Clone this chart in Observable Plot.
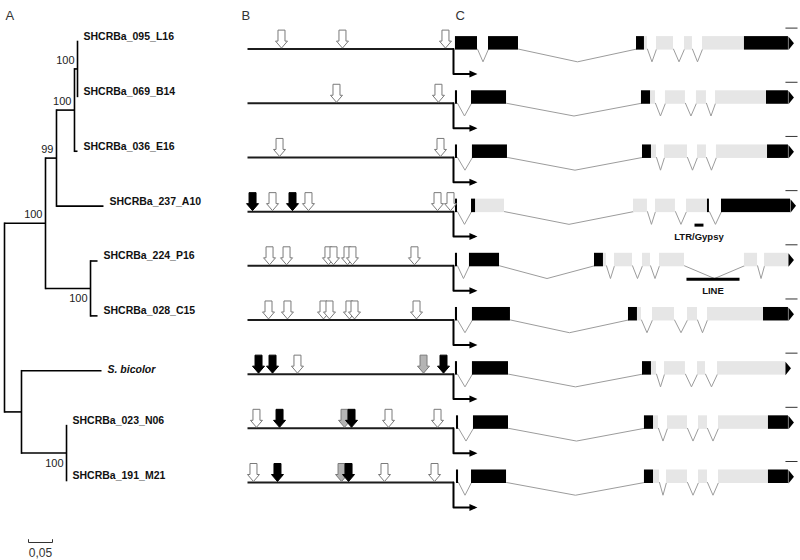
<!DOCTYPE html>
<html><head><meta charset="utf-8">
<script src="https://cdn.jsdelivr.net/npm/d3@7"></script>
<script src="https://cdn.jsdelivr.net/npm/@observablehq/plot@0.6"></script>
<style>
body{margin:0;background:#fff;}
#fig{position:relative;width:800px;height:560px;overflow:hidden;}
#fig svg{position:absolute;top:0;}
</style></head><body><div id="fig"></div>
<script>
// ---------- data ----------
const genes = ["SHCRBa_095_L16","SHCRBa_069_B14","SHCRBa_036_E16","SHCRBa_237_A10",
  "SHCRBa_224_P16","SHCRBa_028_C15","S. bicolor","SHCRBa_023_N06","SHCRBa_191_M21"];

// tree: [child, parent, branch length (substitutions/site)]
const treeEdges = [
  ["U","root",0.0854], ["L","root",0.0354],
  ["U1","U",0.0229], ["U2","U",0.0938],
  ["U1a","U1",0.0375], ["SHCRBa_237_A10","U1",0.0979],
  ["U1a1","U1a",0.0063], ["SHCRBa_036_E16","U1a",0.0063],
  ["SHCRBa_095_L16","U1a1",0], ["SHCRBa_069_B14","U1a1",0],
  ["SHCRBa_224_P16","U2",0.0146], ["SHCRBa_028_C15","U2",0.0146],
  ["S. bicolor","L",0.1667], ["L2","L",0.0938],
  ["SHCRBa_023_N06","L2",0], ["SHCRBa_191_M21","L2",0]
];
// bootstrap support: [node, value, side]
const supports = [["U1a1",100,"above"],["U1a",100,"above"],["U1",99,"above"],["U",100,"above"],
  ["U2",100,"below"],["L2",100,"below"]];
const scaleBar = [0.05, 0.10];
const scaleBarLabel = "0,05";

// promoter motifs: [row, position in bp relative to TSS]
const openMotifs = [[0,-1670],[0,-1078],[0,-78],[1,-1136],[1,-146],[2,-1689],[2,-126],
  [3,-1757],[3,-1408],[3,-155],[3,-29],
  [4,-1786],[4,-1621],[4,-1214],[4,-1165],[4,-1029],[4,-981],[4,-379],
  [5,-1796],[5,-1612],[5,-1262],[5,-1204],[5,-1010],[5,-961],[5,-359],
  [6,-1515],[7,-1913],[7,-631],[7,-155],[8,-1942],[8,-670],[8,-184]];
const greyMotifs = [[6,-291],[7,-1058],[8,-1087]];
const blackMotifs = [[3,-1951],[3,-1563],[6,-1893],[6,-1757],[6,-97],[7,-1689],[7,-990],[8,-1709],[8,-1019]];
const promoterStart = -2000;

// gene models: [start, end, kind] in bp from TSS (introns drawn compressed)
const exonBlocks = [
  [[19,233,"black"],[340,631,"black"],[1777,1854,"black"],[1854,1883,"grey"],[1971,2136,"grey"],[2243,2320,"grey"],[2418,2825,"grey"],[2825,3252,"black"]],
  [[19,39,"black"],[175,515,"black"],[1825,1913,"black"],[1913,1961,"grey"],[2058,2252,"grey"],[2359,2456,"grey"],[2544,3039,"grey"],[3039,3252,"black"]],
  [[19,39,"black"],[184,524,"black"],[1835,1922,"black"],[1922,1971,"grey"],[2049,2272,"grey"],[2369,2456,"grey"],[2553,3049,"grey"],[3049,3252,"black"]],
  [[19,39,"black"],[175,214,"black"],[214,495,"grey"],[1748,1883,"grey"],[1961,2155,"grey"],[2262,2466,"grey"],[2466,2485,"black"],[2602,3272,"black"]],
  [[19,39,"black"],[155,447,"black"],[1369,1456,"black"],[1456,1485,"grey"],[1563,1738,"grey"],[1835,1913,"grey"],[2000,2243,"grey"],[2825,2952,"grey"],[3020,3252,"grey"]],
  [[19,39,"black"],[184,553,"black"],[1699,1786,"black"],[1786,1825,"grey"],[1932,2146,"grey"],[2272,2369,"grey"],[2466,3010,"grey"],[3010,3252,"black"]],
  [[19,39,"black"],[184,534,"black"],[1835,1922,"black"],[1922,1971,"grey"],[2049,2252,"grey"],[2369,2447,"grey"],[2563,3223,"grey"]],
  [[29,49,"black"],[194,534,"black"],[1854,1942,"black"],[1942,1990,"grey"],[2078,2272,"grey"],[2379,2466,"grey"],[2573,3058,"grey"],[3058,3252,"black"]],
  [[29,49,"black"],[175,515,"black"],[1854,1942,"black"],[1942,2000,"grey"],[2068,2272,"grey"],[2379,2466,"grey"],[2573,3058,"grey"],[3058,3252,"black"]]
];
// transposable element insertions
const repeats = [{row:3,start:2340,end:2427,label:"LTR/Gypsy"},{row:4,start:2262,end:2777,label:"LINE"}];
const rowMarks = [3223, 3340];
const panels = [{x:-2058,label:"B"},{x:19,label:"C"}];

// ---------- layout helpers ----------
const SANS = '"Liberation Sans",Arial,sans-serif';
const INTRON_DEPTH = 0.235, TSS_DROP = 0.46, SB_Y = 9.13;

const parentOf = new Map(treeEdges.map(([c,p,bl]) => [c,{p,bl}]));
const kids = d3.group(treeEdges, d => d[1]);
const depth = new Map([["root",0]]);
function getDepth(id){ if(depth.has(id)) return depth.get(id); const {p,bl}=parentOf.get(id); const d=getDepth(p)+bl; depth.set(id,d); return d; }
const ypos = new Map(genes.map((g,i)=>[g,i]));
function getY(id){ if(ypos.has(id)) return ypos.get(id); const ys=kids.get(id).map(e=>getY(e[0])); const y=(d3.min(ys)+d3.max(ys))/2; ypos.set(id,y); return y; }
const hEdges = treeEdges.map(([c,p]) => ({x1:getDepth(p), x2:getDepth(c), y:getY(c)})).filter(d=>d.x2>d.x1);
const vEdges = [...kids.keys()].map(id => { const ys=kids.get(id).map(e=>getY(e[0])); return {x:getDepth(id), y1:d3.min(ys), y2:d3.max(ys)}; });

const downArrow = {draw(c){ c.moveTo(-3.5,-19); c.lineTo(3.5,-19); c.lineTo(3.5,-8); c.lineTo(6,-8); c.lineTo(0,-1); c.lineTo(-6,-8); c.lineTo(-3.5,-8); c.closePath(); }};
const headRight = {draw(c){ c.moveTo(-7,-3.5); c.lineTo(1,0); c.lineTo(-7,3.5); c.closePath(); }};
const geneTip = {draw(c){ c.moveTo(0,-12.5); c.lineTo(5.5,-5.8); c.lineTo(0,1); c.closePath(); }};

// ---------- panel A ----------
const tree = Plot.plot({
  width: 240, height: 560, margin: 0,
  style: {background:"transparent", overflow:"visible"},
  x: {domain:[0,0.5], range:[4,244], axis:null},
  y: {domain:[0,8], range:[41,480], axis:null},
  marks: [
    Plot.link(vEdges, {x1:"x", x2:"x", y1:"y1", y2:"y2", stroke:"#000", strokeWidth:1.6, strokeLinecap:"square"}),
    Plot.link(hEdges, {x1:"x1", x2:"x2", y1:"y", y2:"y", stroke:"#000", strokeWidth:1.6}),
    Plot.text(genes.filter(g => g !== "S. bicolor"), {x:d=>getDepth(d), y:d=>getY(d), text:d=>d, textAnchor:"start", dx:6, dy:-5, fontWeight:"bold", fontSize:10.5, fontFamily:SANS, fill:"#111"}),
    Plot.text(["S. bicolor"], {x:d=>getDepth(d), y:d=>getY(d), text:d=>d, textAnchor:"start", dx:6, dy:-1, fontWeight:"bold", fontStyle:"italic", fontSize:10.5, fontFamily:SANS, fill:"#111"}),
    Plot.text(supports.filter(d=>d[2]==="above"), {x:d=>getDepth(d[0]), y:d=>getY(d[0]), text:d=>String(d[1]), textAnchor:"end", dx:-3, dy:-8.5, fontSize:11, fontFamily:SANS, fill:"#222"}),
    Plot.text(supports.filter(d=>d[2]==="below"), {x:d=>getDepth(d[0]), y:d=>getY(d[0]), text:d=>String(d[1]), textAnchor:"end", dx:-3, dy:10, fontSize:11, fontFamily:SANS, fill:"#222"}),
    Plot.link([scaleBar], {x1:d=>d[0], x2:d=>d[1], y1:SB_Y, y2:SB_Y, stroke:"#333", strokeWidth:1}),
    Plot.link(scaleBar, {x1:d=>d, x2:d=>d, y1:SB_Y, y2:SB_Y-0.06, stroke:"#333", strokeWidth:1}),
    Plot.text([scaleBarLabel], {x:(scaleBar[0]+scaleBar[1])/2, y:SB_Y, text:d=>d, dy:10.5, fontSize:12, fontFamily:SANS, fill:"#333"}),
    Plot.text(["A"], {frameAnchor:"top-left", text:d=>d, textAnchor:"start", lineAnchor:"middle", dx:5, dy:15, fontSize:13, fontFamily:SANS, fill:"#333"})
  ]
});

// ---------- panels B and C ----------
const rows = d3.range(genes.length);
const exonData = exonBlocks.flatMap((b,row) => b.map(([start,end,kind]) => ({row,start,end,kind})));
const intronData = exonBlocks.flatMap((b,row) => d3.pairs(b).filter(([a,c]) => c[0] > a[1]).flatMap(([a,c],k) => [
  {id:row+"-"+k, x:a[1], y:row}, {id:row+"-"+k, x:(a[1]+c[0])/2, y:row+INTRON_DEPTH}, {id:row+"-"+k, x:c[0], y:row}]));
const tipData = exonBlocks.map((b,row) => ({row, x:b[b.length-1][1]}));
const tssData = rows.flatMap(r => [{row:r,x:0,y:r},{row:r,x:0,y:r+TSS_DROP},{row:r,x:200,y:r+TSS_DROP}]);
const motif = (arr) => arr.map(([row,bp]) => ({row,bp}));

const bc = Plot.plot({
  width: 560, height: 560, margin: 0,
  style: {background:"transparent", overflow:"visible"},
  x: {domain:[promoterStart, 3340], range:[7,557], axis:null},
  y: {domain:[0,8], range:[48.6,482], axis:null},
  marks: [
    Plot.line(intronData, {x:"x", y:"y", z:"id", stroke:"#9c9c9c", strokeWidth:1}),
    Plot.link(rows, {x1:promoterStart, x2:0, y1:d=>d, y2:d=>d, stroke:"#1c1c1c", strokeWidth:2}),
    Plot.line(tssData, {x:"x", y:"y", z:"row", stroke:"#000", strokeWidth:2}),
    Plot.dot(rows, {x:223, y:d=>d+TSS_DROP, symbol:headRight, fill:"#000", stroke:"none"}),
    Plot.rect(exonData.filter(d=>d.kind==="grey"), {x1:"start", x2:"end", y1:"row", y2:"row", insetTop:-12.5, insetBottom:-1, fill:"#e6e6e6"}),
    Plot.rect(exonData.filter(d=>d.kind==="black"), {x1:"start", x2:"end", y1:"row", y2:"row", insetTop:-12.5, insetBottom:-1, fill:"#000"}),
    Plot.dot(tipData, {x:"x", y:"row", symbol:geneTip, fill:"#000", stroke:"none"}),
    Plot.link(rows, {x1:rowMarks[0], x2:rowMarks[1], y1:d=>d, y2:d=>d, dy:-21, stroke:"#333", strokeWidth:1}),
    Plot.link(repeats, {x1:"start", x2:"end", y1:"row", y2:"row", dy:13.5, stroke:"#000", strokeWidth:3}),
    Plot.text(repeats, {x:d=>(d.start+d.end)/2, y:"row", text:"label", dy:25, fontWeight:"bold", fontSize:9.5, fontFamily:SANS, fill:"#111"}),
    Plot.dot(motif(openMotifs), {x:"bp", y:"row", symbol:downArrow, fill:"#fff", stroke:"#7a7a7a", strokeWidth:1}),
    Plot.dot(motif(greyMotifs), {x:"bp", y:"row", symbol:downArrow, fill:"#b4b4b4", stroke:"#7a7a7a", strokeWidth:1}),
    Plot.dot(motif(blackMotifs), {x:"bp", y:"row", symbol:downArrow, fill:"#000", stroke:"#000", strokeWidth:1}),
    Plot.text(panels, {x:"x", text:"label", frameAnchor:"top", textAnchor:"start", lineAnchor:"middle", dy:15, fontSize:13, fontFamily:SANS, fill:"#333"})
  ]
});

const fig = document.getElementById("fig");
tree.style.left = "0px";
bc.style.left = "240px";
fig.appendChild(bc);
fig.appendChild(tree);
</script>
</body></html>
